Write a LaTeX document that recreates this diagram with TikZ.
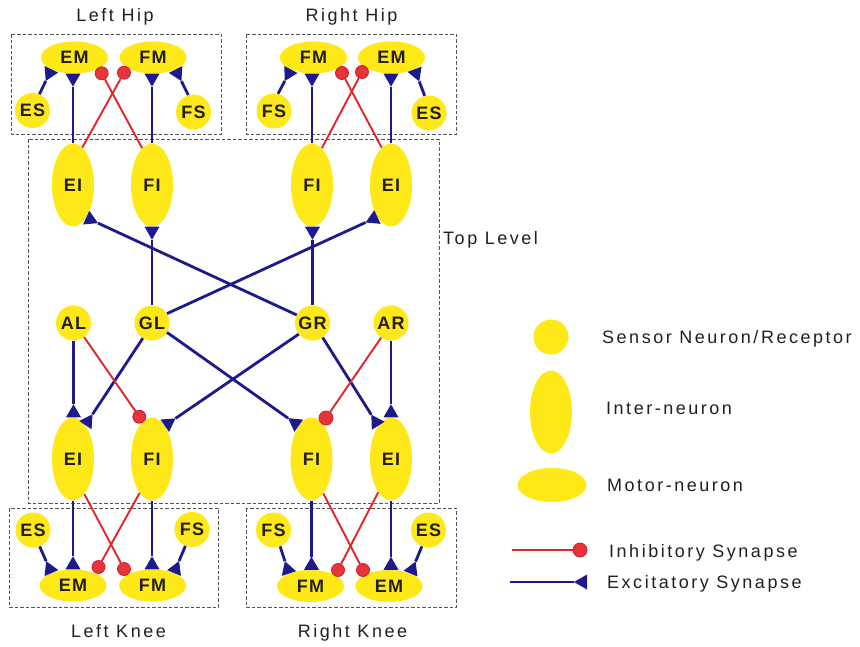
\documentclass[tikz,border=0pt]{standalone}
\usepackage{fontspec}
\setmainfont{Liberation Sans}
\newfontfamily\lblfont[LetterSpace=14]{Liberation Sans}
\newfontfamily\nodefont[LetterSpace=6]{Liberation Sans}
\usetikzlibrary{shapes.geometric,arrows.meta}

\definecolor{neuron}{HTML}{FFE817}
\definecolor{exccol}{HTML}{1C1A8C}
\definecolor{inhcol}{HTML}{E1262B}
\definecolor{dotcol}{HTML}{E8333A}
\definecolor{dotedge}{HTML}{C9202A}
\definecolor{inkcol}{HTML}{231F20}
\definecolor{boxcol}{HTML}{555555}

\tikzset{
  cell/.style={fill=neuron, draw=none, inner sep=0pt, text=inkcol,
    font=\nodefont\bfseries\fontsize{18}{20}\selectfont},
  sensor/.style={cell, circle, minimum size=35pt},
  inter/.style={cell, ellipse, minimum width=42pt, minimum height=83pt},
  motor/.style={cell, ellipse, minimum width=67pt, minimum height=32pt},
  dot/.style={circle, fill=dotcol, draw=dotedge, line width=0.8pt,
    minimum size=13pt, inner sep=0pt},
  exc/.style={draw=exccol, line width=2.8pt,
    -{Triangle[reversed,length=13pt,width=15pt,line width=0pt]}},
  inh/.style={draw=inhcol, line width=1.9pt},
  frame/.style={draw=boxcol, line width=0.8pt, dash pattern=on 3.5pt off 2pt},
  caption/.style={font=\lblfont\fontsize{18}{20}\selectfont, text=inkcol, inner sep=0pt},
}

\begin{document}
\begin{tikzpicture}[x=1pt,y=-1pt]
\fill[white] (0,0) rectangle (860,646);
\useasboundingbox (0,0) rectangle (860,646);

% group frames
\draw[frame] (11,34) rectangle (221,134);
\draw[frame] (246,34) rectangle (456,134);
\draw[frame] (28,139) rectangle (439,503);
\draw[frame] (9,508) rectangle (218,607);
\draw[frame] (246,508) rectangle (456,607);

% captions
\node[caption, anchor=base] (capLH) at (115,21.5) {Left Hip};
\node[caption, anchor=base] (capRH) at (351.5,21.5) {Right Hip};
\node[caption, anchor=base] (capLK) at (118.5,637.5) {Left Knee};
\node[caption, anchor=base] (capRK) at (352.5,637.5) {Right Knee};
\node[caption, anchor=base west] (capTop) at (443,244.5) {Top Level};

% left hip
\node[motor] (lhEM) at (74.5,57.5) {EM};
\node[motor] (lhFM) at (153,57.5) {FM};
\node[sensor] (lhES) at (32.5,110.5) {ES};
\node[sensor] (lhFS) at (193.5,112) {FS};
\node[dot] (lhEMd) at (101.7,73.3) {};
\node[dot] (lhFMd) at (124,72.7) {};

% right hip
\node[motor] (rhFM) at (313.5,57.5) {FM};
\node[motor] (rhEM) at (391.5,57.5) {EM};
\node[sensor] (rhFS) at (274,111) {FS};
\node[sensor] (rhES) at (429,113) {ES};
\node[dot] (rhFMd) at (342,73) {};
\node[dot] (rhEMd) at (362,72) {};

% top level: upper inter-neurons
\node[inter] (uEIl) at (73,185) {EI};
\node[inter] (uFIl) at (152,185) {FI};
\node[inter] (uFIr) at (312,185) {FI};
\node[inter] (uEIr) at (391,185) {EI};

% top level: receptors
\node[sensor] (AL) at (73.5,323) {AL};
\node[sensor] (GL) at (152,323) {GL};
\node[sensor] (GR) at (312.5,323) {GR};
\node[sensor] (AR) at (391,323) {AR};

% top level: lower inter-neurons
\node[inter] (dEIl) at (73,459) {EI};
\node[inter] (dFIl) at (152,459) {FI};
\node[inter] (dFIr) at (311.5,459) {FI};
\node[inter] (dEIr) at (391,459) {EI};
\node[dot] (dFIld) at (139.3,416.7) {};
\node[dot, minimum size=14pt] (dFIrd) at (326,418) {};

% left knee
\node[motor] (lkEM) at (73,585.5) {EM};
\node[motor] (lkFM) at (152.5,585.5) {FM};
\node[sensor] (lkES) at (33,530) {ES};
\node[sensor] (lkFS) at (192,529.5) {FS};
\node[dot] (lkEMd) at (98.5,567) {};
\node[dot] (lkFMd) at (124,569) {};

% right knee
\node[motor] (rkFM) at (310.5,586) {FM};
\node[motor] (rkEM) at (389,586) {EM};
\node[sensor] (rkFS) at (273.5,530) {FS};
\node[sensor] (rkES) at (428.5,530) {ES};
\node[dot] (rkFMd) at (338,570) {};
\node[dot] (rkEMd) at (363,570) {};

% left hip synapses
\draw[exc] (uEIl.north) -- (uEIl.north |- lhEM.south);
\draw[exc] (uFIl.north) -- (uFIl.north |- lhFM.south);
\draw[exc] (lhES.67) -- (lhEM.207);
\draw[exc] (lhFS.107) -- (lhFM.332);
\draw[inh] (uEIl.76) -- (lhFMd);
\draw[inh] (uFIl.105) -- (lhEMd);

% right hip synapses
\draw[exc] (uFIr.north) -- (uFIr.north |- rhFM.south);
\draw[exc] (uEIr.north) -- (uEIr.north |- rhEM.south);
\draw[exc] (rhFS.77) -- (rhFM.208);
\draw[exc] (rhES.104) -- (rhEM.333);
\draw[inh] (uFIr.75) -- (rhEMd);
\draw[inh] (uEIr.104) -- (rhFMd);

% top level synapses
\draw[exc] (GL.north) -- (GL.north |- uFIl.south);
\draw[exc] (GR.north) -- (GR.north |- uFIr.south);
\draw[exc] (GL.32) -- (uEIr.247);
\draw[exc] (GR.153) -- (uEIl.292);
\draw[exc] (AL.south) -- (AL.south |- dEIl.north);
\draw[exc] (AR.south) -- (AR.south |- dEIr.north);
\draw[exc] (GL.239) -- (dEIl.70);
\draw[exc] (GR.219) -- (dFIl.69);
\draw[exc] (GL.328) -- (dFIr.111);
\draw[exc] (GR.305) -- (dEIr.111);
\draw[inh] (AL.307) -- (dFIld);
\draw[inh] (AR.236) -- (dFIrd);

% left knee synapses
\draw[exc] (dEIl.south) -- (dEIl.south |- lkEM.north);
\draw[exc] (dFIl.south) -- (dFIl.south |- lkFM.north);
\draw[exc] (lkES.292) -- (lkEM.150);
\draw[exc] (lkFS.248) -- (lkFM.30);
\draw[inh] (dEIl.288) -- (lkFMd);
\draw[inh] (dFIl.250) -- (lkEMd);

% right knee synapses
\draw[exc] (dFIr.south) -- (dFIr.south |- rkFM.north);
\draw[exc] (dEIr.south) -- (dEIr.south |- rkEM.north);
\draw[exc] (rkFS.292) -- (rkFM.150);
\draw[exc] (rkES.248) -- (rkEM.30);
\draw[inh] (dFIr.289) -- (rkEMd);
\draw[inh] (dEIr.249) -- (rkFMd);

% legend
\node[sensor] (keySensor) at (551,337) {};
\node[inter] (keyInter) at (551,412) {};
\node[motor, minimum width=69pt, minimum height=34pt] (keyMotor) at (552,485) {};
\node[caption, anchor=base west] (keySensorTxt) at (602,343) {Sensor Neuron/Receptor};
\node[caption, anchor=base west] (keyInterTxt) at (606,414) {Inter-neuron};
\node[caption, anchor=base west] (keyMotorTxt) at (607,491) {Motor-neuron};
\node[caption, anchor=base west] (keyInhTxt) at (609,557) {Inhibitory Synapse};
\node[caption, anchor=base west] (keyExcTxt) at (607,588) {Excitatory Synapse};
\coordinate (keyInhA) at (512,550);
\node[dot, minimum size=14pt] (keyInhB) at (580,550) {};
\draw[inh] (keyInhA) -- (keyInhB);
\coordinate (keyExcA) at (510,582);
\coordinate (keyExcB) at (587,582);
\draw[exc] (keyExcA) -- (keyExcB);
\end{tikzpicture}
\end{document}
